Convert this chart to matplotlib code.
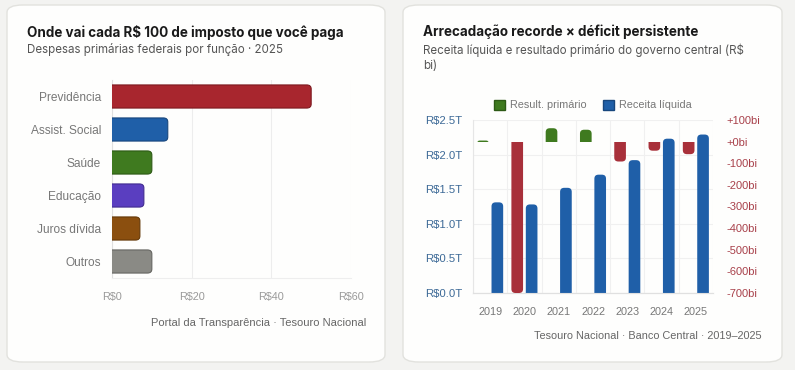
import numpy as np
import matplotlib
matplotlib.use("Agg")
import matplotlib.pyplot as plt
from matplotlib.patches import FancyBboxPatch, Rectangle, Patch

# Left chart data (R$ per R$100 of tax)
funcoes = ["Previdência", "Assist. Social", "Saúde", "Educação", "Juros dívida", "Outros"]
gasto = [50, 14, 10, 8, 7, 10]
cores_funcao = ["#a8262e", "#1f5fa8", "#3f7a1f", "#5a3ec0", "#8b4f0f", "#8a8a85"]
bordas_funcao = ["#7d1a20", "#17467d", "#2d5a15", "#412c90", "#653908", "#666662"]
ticks_gasto = [0, 20, 40, 60]
labels_gasto = ["R$0", "R$20", "R$40", "R$60"]

# Right chart data
anos = ["2019", "2020", "2021", "2022", "2023", "2024", "2025"]
receita = [1.31, 1.28, 1.52, 1.71, 1.92, 2.23, 2.29]       # R$ trilhões
resultado = [5, -700, 62, 55, -92, -42, -58]               # R$ bilhões
ticks_receita = [0, 0.5, 1.0, 1.5, 2.0, 2.5]
labels_receita = ["R$0.0T", "R$0.5T", "R$1.0T", "R$1.5T", "R$2.0T", "R$2.5T"]
ticks_resultado = [-700, -600, -500, -400, -300, -200, -100, 0, 100]
labels_resultado = ["-700bi", "-600bi", "-500bi", "-400bi", "-300bi", "-200bi", "-100bi", "+0bi", "+100bi"]

azul = "#1f5fa8"
vermelho = "#a8303a"
verde = "#3f7a1f"
cinza_txt = "#777777"
titulo_cor = "#1a1a1a"

plt.rcParams['font.family'] = ['Liberation Sans', 'DejaVu Sans']

fig = plt.figure(figsize=(7.95, 3.70), dpi=100)
fig.patch.set_facecolor("#f3f3f1")

# card backgrounds (behind the axes)
for x0, x1 in [(7, 385), (403, 782)]:
    card = FancyBboxPatch((x0 / 795, 1 - 362 / 370), (x1 - x0) / 795, 357 / 370,
                          boxstyle="round,pad=0,rounding_size=0.02",
                          transform=fig.transFigure, facecolor="#fefefd",
                          edgecolor="#e2e2de", linewidth=1.0, zorder=-5)
    fig.patches.append(card)


def barra_vertical(ax, xc, largura, valor, cor, r, asp):
    # rounded at the far end only: extend past zero and clip at zero
    ext = r * asp
    if valor >= 0:
        y0, h = -ext, valor + ext
        clip = Rectangle((xc - 1, 0), 2, 1e6, transform=ax.transData)
    else:
        y0, h = valor, -valor + ext
        clip = Rectangle((xc - 1, -1e6), 2, 1e6, transform=ax.transData)
    rr = min(r, h / 2 / asp)
    b = FancyBboxPatch((xc - largura / 2, y0), largura, h,
                       boxstyle="round,pad=0,rounding_size=%f" % rr,
                       mutation_aspect=asp, facecolor=cor, edgecolor="none", zorder=3)
    ax.add_patch(b)
    b.set_clip_path(clip)


# ---------------- Left chart ----------------
ax1 = fig.add_axes([112 / 795, 1 - 278 / 370, 239 / 795, 198 / 370])
ax1.set_facecolor("none")
ax1.set_xlim(0, 60)
ax1.set_ylim(len(funcoes) - 0.5, -0.5)

r_x = 1.1
asp1 = 0.12 / r_x
for i, v in enumerate(gasto):
    barra = FancyBboxPatch((-r_x * 2, i - 0.35), v + r_x * 2, 0.7,
                           boxstyle="round,pad=0,rounding_size=%f" % r_x,
                           mutation_aspect=asp1,
                           facecolor=cores_funcao[i], edgecolor=bordas_funcao[i],
                           linewidth=0.8, zorder=3)
    ax1.add_patch(barra)

ax1.set_yticks(range(len(funcoes)))
ax1.set_yticklabels(funcoes, fontsize=8.6, color=cinza_txt)
ax1.set_xticks(ticks_gasto)
ax1.set_xticklabels(labels_gasto, fontsize=7.8, color="#999999")
ax1.tick_params(length=0, pad=8)
ax1.tick_params(axis="x", pad=10)
ax1.grid(axis="x", color="#ededed", linewidth=0.8)
for s in ["top", "right"]:
    ax1.spines[s].set_visible(False)
ax1.spines["left"].set_color("#e0e0e0")
ax1.spines["bottom"].set_color("#eeeeee")
ax1.set_axisbelow(True)

fig.text(27 / 795, 1 - 32 / 370, "Onde vai cada R$ 100 de imposto que você paga",
         family=["Inter", "DejaVu Sans"], fontweight="bold", fontsize=9.7,
         color=titulo_cor, va="center")
fig.text(27 / 795, 1 - 50 / 370, "Despesas primárias federais por função · 2025",
         family=["Inter", "DejaVu Sans"], fontsize=8.3, color="#555555", va="center")
fig.text(366 / 795, 1 - 323 / 370, "Portal da Transparência · Tesouro Nacional",
         fontsize=8.0, color="#666666", ha="right", va="center")

# ---------------- Right chart ----------------
ax2 = fig.add_axes([473 / 795, 1 - 293 / 370, 240 / 795, 173 / 370])
ax2.set_facecolor("none")
ax3 = ax2.twinx()
x = np.arange(len(anos))
ax2.set_xlim(-0.5, len(anos) - 0.5)
ax2.set_ylim(0, 2.5)
ax3.set_ylim(-700, 100)

w = 0.34
off = 0.21
r_d = 0.12

for i, v in enumerate(receita):
    barra_vertical(ax2, x[i] + off, w, v, azul, r_d, 0.48)

for i, v in enumerate(resultado):
    cor = verde if v >= 0 else vermelho
    barra_vertical(ax3, x[i] - off, w, v, cor, r_d, 150)

ax2.set_xticks(x)
ax2.set_xticklabels(anos, fontsize=7.8, color=cinza_txt)
ax2.set_yticks(ticks_receita)
ax2.set_yticklabels(labels_receita, fontsize=8.2, color="#3d6a97")
ax3.set_yticks(ticks_resultado)
ax3.set_yticklabels(labels_resultado, fontsize=8.0, color="#a8404a")
ax2.tick_params(length=0, pad=8)
ax2.tick_params(axis="x", pad=10)
ax3.tick_params(length=0, pad=10)

ax2.set_xticks(np.arange(-0.5, len(anos), 1), minor=True)
ax2.tick_params(axis="x", which="minor", length=0)
ax2.grid(axis="x", which="minor", color="#f0f0f0", linewidth=0.8)
ax2.grid(axis="y", color="#f0f0f0", linewidth=0.8)
ax2.set_axisbelow(True)
for a in (ax2, ax3):
    for s in ["top", "right", "left"]:
        a.spines[s].set_visible(False)
    a.spines["bottom"].set_color("#e0e0e0")
ax2.spines["left"].set_visible(True)
ax2.spines["left"].set_color("#e6e6e6")

leg = ax2.legend(handles=[Patch(facecolor=verde, edgecolor="#2d5a15", label="Result. primário"),
                          Patch(facecolor=azul, edgecolor="#17467d", label="Receita líquida")],
                 loc="lower center", bbox_to_anchor=(0.5, 1.03), ncol=2, frameon=False,
                 fontsize=7.8, handlelength=1.0, handleheight=1.0, handletextpad=0.5,
                 columnspacing=1.5, borderaxespad=0)
for t in leg.get_texts():
    t.set_color(cinza_txt)

fig.text(423 / 795, 1 - 32 / 370, "Arrecadação recorde × déficit persistente",
         family=["Inter", "DejaVu Sans"], fontweight="bold", fontsize=9.7,
         color=titulo_cor, va="center")
fig.text(423 / 795, 1 - 50 / 370, "Receita líquida e resultado primário do governo central (R$",
         family=["Inter", "DejaVu Sans"], fontsize=8.3, color="#555555", va="center")
fig.text(423 / 795, 1 - 66 / 370, "bi)",
         family=["Inter", "DejaVu Sans"], fontsize=8.3, color="#555555", va="center")
fig.text(762 / 795, 1 - 336 / 370, "Tesouro Nacional · Banco Central · 2019–2025",
         fontsize=7.8, color="#666666", ha="right", va="center")

fig.savefig("out.png", dpi=100, facecolor=fig.get_facecolor())
